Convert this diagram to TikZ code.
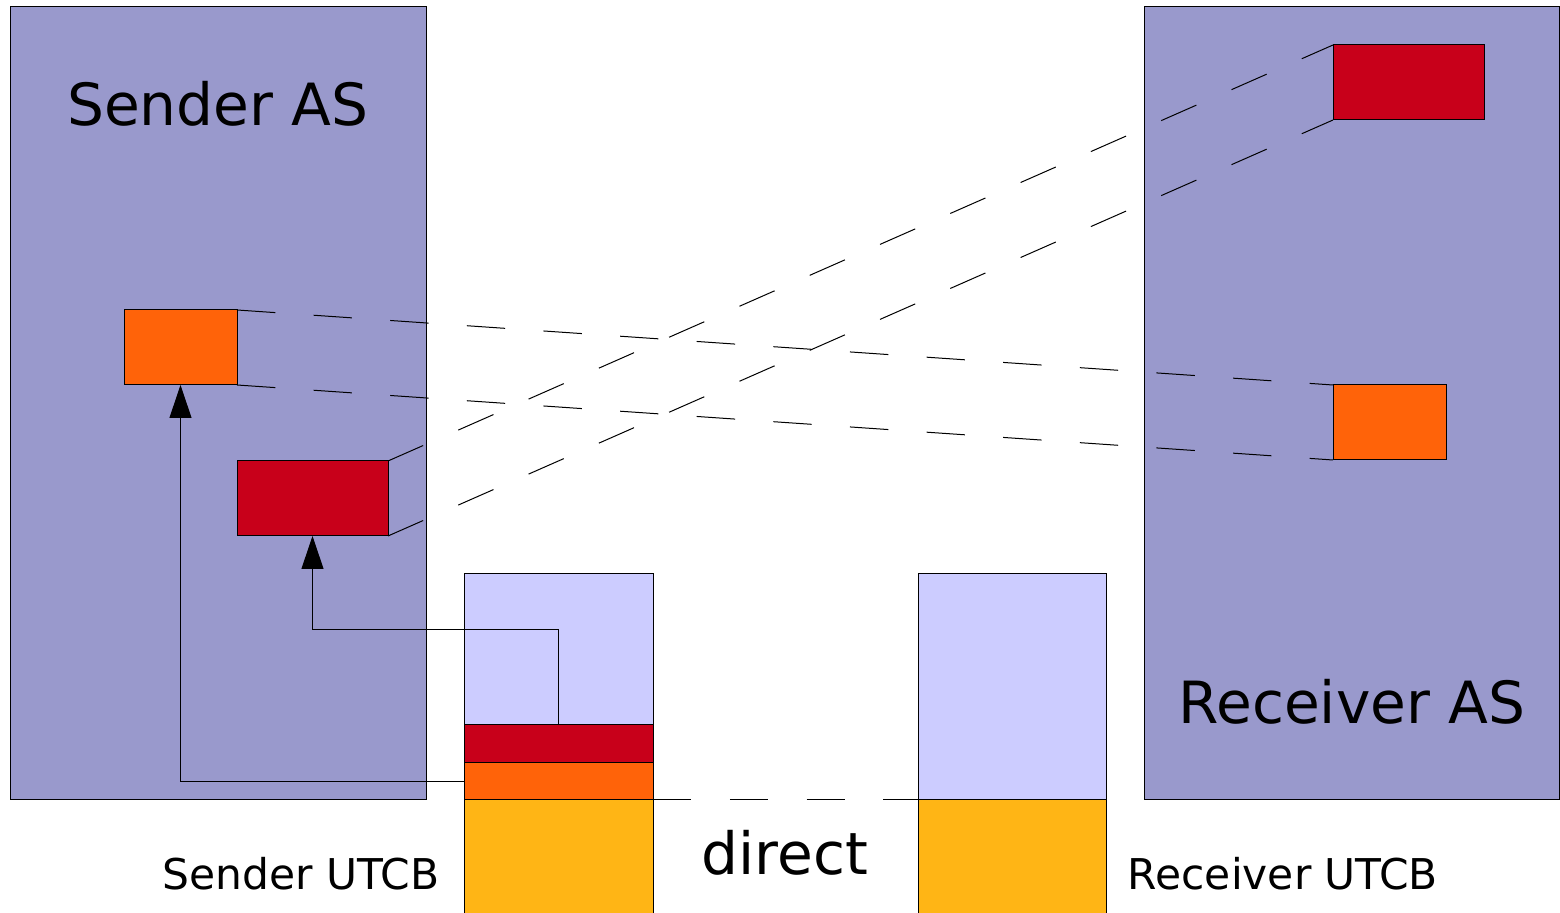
\documentclass[tikz,border=0pt]{standalone}
\usepackage{fontspec}
\setmainfont{DejaVu Sans}
\usetikzlibrary{arrows.meta}
\definecolor{asblue}{HTML}{9999CC}
\definecolor{lav}{HTML}{CCCCFF}
\definecolor{rred}{HTML}{C8001A}
\definecolor{oorange}{HTML}{FF6309}
\definecolor{yyellow}{HTML}{FFB515}
\tikzset{
  pxbox/.style n args={3}{draw=black, line width=0.5pt, fill=#1, inner sep=0pt, outer sep=0pt,
     anchor=north west, minimum width=#2*0.5pt, minimum height=#3*0.5pt},
  dashline/.style={draw=black, line width=0.5pt, dash pattern=on 19.2pt off 19.2pt},
  arr/.style={draw=black, line width=0.5pt, -{Triangle[width=11pt,length=16.5pt]}},
  bigtext/.style={font=\fontsize{29.1}{35}\selectfont, anchor=base, inner sep=0pt},
  smalltext/.style={font=\fontsize{21.2}{25}\selectfont, anchor=base, inner sep=0pt},
}
\begin{document}
\begin{tikzpicture}[x=0.5pt,y=-0.5pt]
\useasboundingbox (0,0) rectangle (1560,913);
% address spaces
\node[pxbox={asblue}{416}{793}] (sas) at (10,7) {};
\node[pxbox={asblue}{415}{793}] (ras) at (1144,7) {};
\node[bigtext] (sastext) at (218,126) {Sender AS};
\node[bigtext] (rastext) at (1352,724) {Receiver AS};
% UTCB columns
\node[pxbox={lav}{189}{151}] (sutop) at (464,574) {};
\node[pxbox={rred}{189}{38}] (sured) at (464,725) {};
\node[pxbox={oorange}{189}{37}] (suor) at (464,763) {};
\node[pxbox={yyellow}{189}{130}] (suy) at (464,800) {};
\node[pxbox={lav}{188}{226}] (rutop) at (918,574) {};
\node[pxbox={yyellow}{188}{130}] (ruy) at (918,800) {};
% items
\node[pxbox={oorange}{113}{75}] (so) at (124,310) {};
\node[pxbox={rred}{151}{75}] (sr) at (237,461) {};
\node[pxbox={rred}{151}{75}] (rr) at (1333,45) {};
\node[pxbox={oorange}{113}{75}] (ro) at (1333,385) {};
% mapping lines
\draw[dashline] (so.north east) -- (ro.north west);
\draw[dashline] (so.south east) -- (ro.south west);
\draw[dashline] (sr.north east) -- (rr.north west);
\draw[dashline] (sr.south east) -- (rr.south west);
\draw[dashline] (suy.north east) -- (ruy.north west);
% arrows
\draw[arr] (sured.north) -- ++(0,-95) -| (sr.south);
\draw[arr] (suor.west) -| (so.south);
% labels
\node[bigtext] (directtext) at (785,875) {direct};
\node[smalltext] (sutext) at (301,890) {Sender UTCB};
\node[smalltext] (rutext) at (1283,890) {Receiver UTCB};
\end{tikzpicture}
\end{document}
